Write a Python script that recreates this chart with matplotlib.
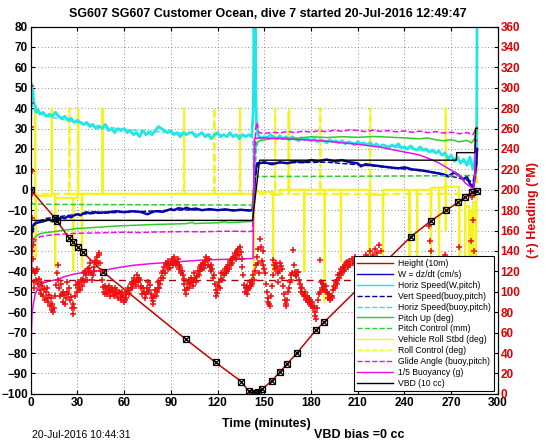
import matplotlib
matplotlib.use('Agg')
import matplotlib.pyplot as plt
from matplotlib.lines import Line2D

plt.rcParams['font.family'] = ['Liberation Sans', 'DejaVu Sans']

# ---- data (time in minutes, values on left axis) ----
height = [(0, 0), (15.8, -14), (17, -15.5), (24.8, -23.6), (27.4, -25.7), (30.2, -28),
          (33.5, -30.5), (46.4, -40.2), (99.7, -73.3), (118.7, -84.6), (135.3, -94),
          (140, -98.8), (142, -99.5), (144, -99.6), (146, -99), (148.5, -97.8), (155, -93.5),
          (160, -89.3), (164.6, -85.4), (171, -80), (183, -68.9), (188.4, -64.9),
          (244.1, -23), (256.9, -15.3), (266.9, -10), (274.6, -6.1), (278.8, -3.5),
          (283.5, -1.3), (286.7, -0.5)]

w_speed = [(0, -30), (0.5, -22), (1, -19), (2, -17), (3, -16.5), (5, -16), (8, -15.5), (10, -15),
           (12, -14.5), (14, -15.5), (16, -14), (18, -14.5), (20, -13.5), (22, -14), (24, -13),
           (26, -13.5), (28, -12.5), (30, -12), (32, -12.5), (34, -11.5), (36, -11), (38, -11.5),
           (40, -11), (45, -11.2), (50, -11), (55, -10.5), (60, -11), (65, -10.5), (70, -10.8),
           (72, -11.2), (75, -12), (78, -11), (80, -10.5), (85, -10.8), (88, -10), (90, -9.5),
           (92, -10), (95, -9), (98, -9.5), (100, -8.8), (103, -9.6), (106, -9.2), (110, -10),
           (115, -9.5), (120, -10), (125, -9.6), (130, -10.2), (135, -9.8), (140, -10.2),
           (142.5, -10), (143.5, 0), (144.5, 10), (145.5, 13), (147, 13), (150, 13.5),
           (155, 12.5), (160, 13.5), (165, 13), (170, 14), (175, 13.5), (180, 14.5), (185, 14),
           (190, 14.8), (195, 14), (200, 14.5), (205, 13.5), (210, 13), (212, 11.5),
           (215, 12.5), (220, 12), (225, 11.5), (230, 11), (236, 10.5), (240, 11), (245, 10),
           (250, 9.6), (255, 9), (258, 8.5), (262, 8), (265, 7.5), (268, 6.5), (270, 7.5),
           (272, 8.5), (275, 7), (278, 5), (280, 6.5), (282, 3), (284, 1), (285, 5), (286, 12),
           (286.6, 20)]

horiz_w = [(0, 44), (0.5, 52), (1, 47), (1.5, 49), (2, 43), (3, 41), (4, 38), (5, 39), (6, 37),
           (8, 38), (10, 36), (12, 37), (14, 36), (16, 38), (18, 36), (20, 35), (22, 36), (24, 34),
           (26, 35), (28, 33), (30, 34), (32, 33), (34, 32), (36, 33), (38, 31), (40, 32), (42, 30),
           (44, 31), (46, 30), (48, 32), (50, 29), (52, 30), (54, 28), (56, 30), (58, 29), (60, 30),
           (62, 28), (64, 29), (66, 27), (68, 28), (70, 26), (72, 29), (74, 27), (76, 28), (78, 27),
           (80, 29), (82, 31), (84, 30), (86, 29), (88, 28), (90, 29), (92, 27), (94, 28), (96, 26),
           (98, 28), (100, 27), (102, 28), (104, 28), (106, 26), (108, 27), (110, 28), (112, 26),
           (114, 27), (116, 25), (118, 27), (120, 28), (122, 26), (124, 27), (126, 26), (128, 28),
           (130, 26), (132, 27), (134, 25), (136, 27), (138, 26), (140, 27), (142, 26), (143, 40),
           (143.4, 85), (143.8, 62), (144.2, 85), (144.6, 50), (145, 30), (146, 27), (148, 25),
           (150, 26), (152, 25.5), (154, 27), (156, 26), (158, 25), (160, 26.5), (162, 25),
           (164, 26), (166, 24.5), (168, 26), (170, 25), (172, 24), (174, 25.5), (176, 24.5),
           (178, 25), (180, 24), (182, 25), (184, 23.5), (186, 24.5), (188, 24), (190, 23),
           (192, 24.5), (194, 23.5), (196, 24), (198, 23), (200, 24), (202, 22.5), (204, 23.5),
           (206, 23), (208, 22), (210, 23.5), (212, 22.5), (214, 23), (216, 22), (218, 23),
           (220, 21.5), (222, 22.5), (224, 21), (226, 22), (228, 21.5), (230, 20.5), (232, 22),
           (234, 21), (236, 22.5), (238, 20.5), (240, 21), (242, 20), (244, 21.5), (246, 20),
           (248, 19.5), (250, 21), (252, 19.5), (254, 20), (256, 18.5), (258, 19.5), (260, 18),
           (262, 19), (264, 17), (266, 18), (268, 15), (270, 17), (272, 14), (274, 16), (276, 13),
           (278, 15), (280, 12), (282, 16), (284, 10), (285, 14), (285.5, 18), (286, 12),
           (286.3, 20), (286.6, 85)]

vert_buoy = [(0, -32), (1, -22), (3, -16), (10, -14), (30, -12), (60, -11), (90, -10), (120, -9.8),
             (142.5, -9.8), (144, 5), (146, 13), (190, 13.5), (230, 11), (260, 8.5), (284, 4),
             (286.5, 14)]

horiz_buoy = [(0, 30), (1, 42), (3, 38), (10, 36), (30, 33), (60, 29.5), (90, 28), (120, 27),
              (142.5, 26.5), (143.5, -8), (145, 20), (146.5, 26), (190, 24), (230, 21.5),
              (260, 18.5), (284, 12), (286.5, 22)]

pitch = [(0, -85), (0.3, -60), (0.6, -35), (1, -28), (2, -24), (4, -22.5), (6, -21.5), (10, -21),
         (15, -20.5), (20, -20), (25, -19.5), (30, -19), (35, -18.8), (40, -18.5), (45, -18.3),
         (50, -18), (60, -17.6), (70, -17.3), (80, -17), (90, -16.8), (100, -16.6), (104, -16),
         (105, -16.6), (110, -16.4), (120, -16.2), (125, -15.6), (126, -16.1), (130, -16),
         (135, -15.8), (140, -15.6), (142.5, -15.5), (143, -5), (143.5, 5), (144, 18), (145, 23),
         (147, 24), (150, 24.5), (160, 25.5), (170, 25.2), (180, 26), (190, 25.6), (200, 26),
         (210, 25.7), (220, 26.1), (230, 25.8), (240, 25.4), (250, 25), (255, 25.4), (260, 24.5),
         (265, 24), (270, 24.6), (275, 23.5), (280, 24.2), (283, 23), (285, 25), (286.6, 29)]

pitch_ctl = [(0, -2), (1, -7), (20, -7.2), (60, -7.3), (100, -7.4), (142.5, -7.5), (143.5, 6.5),
             (200, 6.6), (250, 6.8), (286, 7)]

roll = [(0, -1), (2.8, -1), (3.0, 40), (3.2, -33), (3.4, -3), (13.4, -3), (13.6, 40), (13.8, -2),
        (15.6, -2), (15.8, -38), (16.0, -4), (27.2, -4), (27.4, -40), (27.6, -4), (30.4, -4),
        (30.6, 40), (30.8, -2), (32.8, -2), (33.0, -38), (33.2, -2), (46.0, -2), (46.2, 40),
        (46.4, -2), (143.0, -2), (143.3, -45), (143.6, 2), (146, -1), (155.5, -1),
        (155.7, -40), (155.9, -2.5), (160, -2.5), (160.2, 0), (165.5, 0), (165.7, 38),
        (165.9, 0), (175.5, 0), (175.7, -40), (175.9, 0), (188.6, 0), (188.8, -55), (189.0, 0),
        (199, 0), (199.2, -35), (199.4, 0), (217.4, 0), (217.6, -40), (217.8, -2.5),
        (226, -2.5), (226.2, -60), (226.4, 0), (243, 0), (243.2, -62), (243.4, 0), (248, 0),
        (248.2, -55), (248.4, 0), (256.8, 0), (257, -50), (257.2, 1), (262, 1), (262.2, -65),
        (262.4, 1), (266.3, 1), (266.5, -20), (266.7, 1.5), (275, 1.5), (275.2, -70),
        (275.4, -5), (278.8, -5), (279, -75), (279.2, -8), (281.5, -8), (281.7, -60),
        (281.9, -10), (283.5, -10), (283.7, -80), (283.9, -6), (285.5, -6), (285.7, -45),
        (286.5, 0)]

roll_ctl = [(0, -2), (24.7, -2), (24.9, 40), (25.1, -2), (46.1, -2), (46.3, 40), (46.5, -2),
            (98.4, -2), (98.6, 40), (98.8, -2), (117.8, -2), (118, 40), (118.2, -2),
            (134.3, -2), (134.5, 40), (134.7, -2), (156.8, -2), (157, 40), (157.2, -2),
            (165.8, -2), (166, 40), (166.2, -2), (185.8, -2), (186, 40), (186.2, -2),
            (217.8, -2), (218, 40), (218.2, -2), (266.2, -2), (266.4, 40), (266.6, -2),
            (286.5, -2), (286.7, 40)]

glide = [(0, -70), (0.5, -40), (1, -30), (2, -26), (4, -24), (6, -23), (10, -22.5), (15, -22),
         (20, -21.8), (30, -21.3), (40, -21.2), (50, -21), (60, -20.8), (70, -21), (80, -20.7),
         (90, -20.6), (100, -20.5), (110, -20.6), (120, -20.4), (130, -20.3), (140, -20.5),
         (142.5, -20.3), (143.5, 5), (144.5, 30), (145.5, 33), (146.5, 28), (150, 27.5),
         (155, 28.2), (160, 27.8), (165, 28.6), (170, 28), (175, 28.8), (180, 28.2), (185, 29),
         (190, 28.4), (195, 29.2), (200, 28.6), (205, 29.4), (210, 29), (215, 28.5), (220, 29.2),
         (225, 28.6), (230, 29), (235, 28.4), (240, 28.8), (245, 28.2), (250, 28.7), (255, 28),
         (260, 28.5), (265, 27.8), (270, 28.2), (275, 27.5), (280, 28), (284, 27), (286.6, 31)]

buoyancy = [(0, -95), (0.3, -80), (0.6, -68), (1, -60), (2, -55), (3, -51), (4.5, -48.5), (6, -46.7),
            (9, -45.5), (12, -44.8), (17, -44), (22, -42.5), (28, -41.3), (34, -40.5), (40, -40),
            (47, -39.5), (55, -38.3), (66, -37), (76, -36.3), (87, -35.7), (98, -35.1),
            (109, -34.5), (120, -34.2), (130, -34), (142.8, -33.7), (143.2, 0), (143.6, 25),
            (147, 25.5), (160, 25), (175, 24.5), (190, 23.8), (200, 23), (211, 22.2),
            (225, 20.8), (232, 19.7), (240, 18.5), (249, 17.2), (255, 15.5), (262, 13.2),
            (268, 10.5), (273, 8.2), (277, 5.5), (279, 3.3), (283.5, 0.8), (284.5, 0),
            (285.2, 8), (285.6, 24.7), (286.5, 24)]

vbd = [(0, -15), (142.5, -15), (147, 14.5), (273.3, 14.5), (273.5, 18.2), (285.2, 18.2),
       (285.6, 30.1), (286.7, 30.1)]

# heading (degrees, right axis)
heading = [(0.0, 302), (0.15, 285), (0.3, 262), (0.45, 240), (0.6, 218), (0.75, 196), (0.9, 172),
           (1.05, 152), (1.2, 140), (1.4, 146), (1.6, 132), (1.8, 121), (2.0, 110), (2.2, 104),
           (2.6, 118), (3.2, 120), (3.8, 112), (4.3, 122), (4.8, 108), (5.4, 113), (6.0, 102),
           (6.5, 110), (7.0, 98), (7.6, 106), (8.2, 96), (8.7, 103), (9.2, 92), (9.7, 100),
           (10.3, 94), (10.8, 104), (11.4, 90), (11.9, 97), (12.5, 86), (13.0, 94), (13.5, 82),
           (14.0, 88), (14.5, 80), (15.1, 84), (15.6, 96), (16.2, 107), (16.7, 118), (17.3, 126),
           (17.8, 112), (18.3, 104), (18.9, 96), (19.4, 108), (20.0, 98), (20.5, 100), (21.1, 90),
           (21.6, 97), (22.2, 88), (22.7, 94), (23.2, 100), (23.7, 110), (24.3, 98), (24.8, 104),
           (25.4, 92), (25.9, 95), (26.5, 84), (27.0, 88), (27.5, 78), (28.0, 84), (28.6, 96),
           (29.1, 107), (29.6, 100), (30.2, 104), (30.7, 110), (31.3, 108), (31.8, 102),
           (32.4, 112), (32.9, 106), (33.5, 113), (34.0, 118), (34.5, 110), (35.1, 120),
           (35.6, 116), (36.2, 112), (36.7, 122), (37.3, 118), (37.8, 123), (38.3, 128),
           (38.9, 118), (39.4, 112), (39.9, 116), (40.5, 124), (41.0, 120), (41.5, 130),
           (42.1, 129), (42.6, 134), (43.2, 128), (43.7, 138), (44.2, 136), (44.8, 128),
           (45.3, 120), (45.8, 112), (46.4, 105), (46.9, 100), (47.5, 98), (48.0, 106),
           (48.6, 104), (49.1, 98), (49.6, 102), (50.2, 106), (50.7, 102), (51.3, 96), (51.8, 100),
           (52.4, 104), (52.9, 100), (53.5, 96), (54.0, 98), (54.5, 104), (55.0, 102), (55.6, 98),
           (56.1, 94), (56.7, 100), (57.2, 99), (57.8, 92), (58.3, 95), (58.9, 100), (59.4, 96),
           (60.0, 90), (60.5, 92), (61.0, 98), (61.5, 94), (62.1, 100), (62.6, 104), (63.2, 98),
           (63.7, 102), (64.3, 108), (64.8, 104), (65.3, 110), (65.8, 108), (66.4, 114),
           (66.9, 110), (67.5, 106), (68.0, 112), (68.5, 116), (69.1, 110), (69.6, 114),
           (70.1, 112), (70.7, 106), (71.2, 104), (71.8, 98), (72.3, 104), (72.9, 100), (73.4, 94),
           (74.0, 98), (74.5, 100), (75.0, 104), (75.5, 110), (76.1, 102), (76.6, 107), (77.2, 98),
           (77.7, 94), (78.3, 88), (78.8, 91), (79.3, 96), (79.9, 102), (80.4, 96), (80.9, 100),
           (81.5, 104), (82.0, 110), (82.6, 104), (83.1, 108), (83.7, 114), (84.2, 118),
           (84.7, 114), (85.3, 120), (85.8, 124), (86.3, 118), (86.9, 128), (87.4, 126),
           (88.0, 122), (88.5, 130), (89.0, 126), (89.6, 123), (90.1, 128), (90.7, 132),
           (91.2, 126), (91.7, 129), (92.3, 134), (92.8, 130), (93.4, 126), (93.9, 128),
           (94.5, 132), (95.0, 126), (95.5, 122), (96.0, 124), (96.6, 118), (97.1, 120),
           (97.7, 116), (98.2, 113), (98.7, 108), (99.3, 102), (99.8, 98), (100.4, 104),
           (100.9, 110), (101.4, 104), (102.0, 112), (102.5, 108), (103.1, 114), (103.6, 110),
           (104.2, 106), (104.7, 112), (105.2, 118), (105.8, 114), (106.3, 110), (106.8, 115),
           (107.4, 120), (107.9, 116), (108.5, 124), (109.0, 120), (109.5, 126), (110.1, 122),
           (110.6, 128), (111.2, 123), (111.7, 130), (112.2, 126), (112.8, 134), (113.3, 131),
           (113.9, 126), (114.4, 132), (114.9, 124), (115.5, 126), (116.0, 120), (116.5, 122),
           (117.1, 114), (117.6, 116), (118.2, 108), (118.7, 102), (119.3, 96), (119.8, 99),
           (120.4, 106), (120.9, 110), (121.4, 104), (122.0, 113), (122.5, 118), (123.0, 112),
           (123.6, 118), (124.1, 116), (124.7, 122), (125.2, 118), (125.8, 124), (126.3, 120),
           (126.8, 126), (127.4, 122), (127.9, 130), (128.4, 126), (129.0, 132), (129.5, 128),
           (130.1, 134), (130.6, 133), (131.1, 138), (131.7, 132), (132.2, 140), (132.7, 136),
           (133.3, 142), (133.8, 136), (134.4, 144), (134.9, 139), (135.4, 132), (136.0, 124),
           (136.5, 116), (137.0, 107), (137.6, 100), (138.1, 104), (138.7, 98), (139.2, 106),
           (139.7, 102), (140.3, 104), (140.8, 110), (141.4, 106), (141.9, 112), (142.4, 108),
           (143.0, 116), (143.5, 112), (144.1, 120), (144.6, 126), (145.1, 134), (145.7, 128),
           (146.2, 142), (146.8, 118), (147.3, 152), (147.8, 144), (148.4, 130), (148.9, 140),
           (149.5, 126), (150.0, 122), (150.5, 118), (151.1, 108), (151.6, 100), (152.2, 94),
           (152.7, 90), (153.2, 88), (153.7, 86), (154.3, 96), (154.8, 106), (155.4, 116),
           (155.8, 131), (156.4, 126), (156.9, 122), (157.4, 128), (157.9, 124), (158.5, 118),
           (159.0, 110), (159.5, 120), (160.1, 128), (160.6, 125), (161.1, 122), (161.7, 114),
           (162.2, 106), (162.7, 98), (163.2, 92), (163.7, 88), (164.2, 86), (164.8, 92),
           (165.3, 100), (165.9, 104), (166.4, 110), (166.9, 116), (167.4, 112), (168.0, 118),
           (168.5, 141), (169.0, 126), (169.5, 119), (170.1, 116), (170.6, 115), (171.1, 119),
           (171.6, 119), (172.2, 112), (172.7, 108), (173.3, 104), (173.8, 100), (174.3, 104),
           (174.8, 98), (175.4, 96), (175.9, 100), (176.4, 96), (176.9, 92), (177.5, 96),
           (178.0, 90), (178.6, 94), (179.1, 88), (179.6, 92), (180.2, 86), (180.7, 90),
           (181.2, 84), (181.8, 86), (182.3, 80), (182.8, 76), (183.3, 73), (183.9, 84),
           (184.4, 92), (184.9, 98), (185.5, 131), (186.0, 100), (186.5, 110), (187.0, 104),
           (187.5, 108), (188.0, 102), (188.5, 106), (189.0, 102), (189.5, 106), (190.1, 100),
           (190.6, 98), (191.1, 94), (191.7, 98), (192.2, 92), (192.7, 96), (193.2, 94),
           (193.7, 96), (194.3, 102), (194.8, 106), (195.3, 104), (195.8, 110), (196.4, 108),
           (196.9, 112), (197.4, 116), (197.9, 114), (198.5, 118), (199.0, 116), (199.5, 122),
           (200.0, 119), (200.5, 124), (201.0, 120), (201.6, 126), (202.1, 122), (202.6, 128),
           (203.2, 129), (203.8, 124), (204.4, 130), (205.0, 126), (206.0, 132), (207.0, 128),
           (208.0, 134), (209.0, 130), (210.5, 126), (212.0, 132), (213.5, 128), (215.0, 136),
           (216.5, 134), (218.0, 140), (219.5, 136), (221.0, 142), (222.5, 138), (223.8, 146),
           (225.0, 140), (226.5, 132), (228.0, 124), (230.0, 118), (232.0, 112), (234.0, 116),
           (236.6, 118), (238.0, 112), (240.0, 108), (242.0, 104), (244.0, 100), (246.0, 96),
           (248.0, 90), (250.0, 80), (251.5, 70), (253.0, 60), (254.5, 80), (255.0, 100),
           (255.4, 130), (255.8, 164), (256.2, 150), (256.8, 140), (258.0, 128), (260.0, 122),
           (262.0, 126), (264.0, 130), (266.0, 136), (268.0, 132), (270.0, 128), (272.0, 124),
           (274.0, 130), (275.0, 144), (275.5, 120), (276.0, 100), (277.0, 80), (278.0, 60),
           (279.0, 40), (280.0, 30), (281.0, 50), (282.0, 90), (283.0, 150), (283.5, 193),
           (284.0, 170), (284.5, 140), (285.0, 110), (286.0, 70), (286.5, 40)]

heading_target = 112
target_span = [0, 286.7]

labels = ['Height (10m)', 'W = dz/dt (cm/s)', 'Horiz Speed(W,pitch)', 'Vert Speed(buoy,pitch)',
          'Horiz Speed(buoy,pitch)', 'Pitch Up (deg)', 'Pitch Control (mm)',
          'Vehicle Roll Stbd (deg)', 'Roll Control (deg)', 'Glide Angle (buoy,pitch)',
          '1/5 Buoyancy (g)', 'VBD (10 cc)']

RED = '#c80000'
BLUE = '#0a0ab4'
CYAN = '#22e6e6'
GREEN = '#2ecc2e'
YELLOW = '#f4f41c'
MAGENTA = '#e612e6'


def xy(pairs):
    return [p[0] for p in pairs], [p[1] for p in pairs]


fig = plt.figure(figsize=(5.46, 4.42), dpi=100)
ax = fig.add_axes([0.056, 0.109, 0.856, 0.831])
ax2 = ax.twinx()

styles = [
    (height, RED, '-', 1.1),
    (w_speed, BLUE, '-', 1.8),
    (horiz_w, CYAN, '-', 2.0),
    (vert_buoy, '#00008c', '--', 1.0),
    (horiz_buoy, CYAN, '--', 1.0),
    (pitch, GREEN, '-', 1.1),
    (pitch_ctl, GREEN, '--', 1.1),
    (roll, YELLOW, '-', 1.5),
    (roll_ctl, YELLOW, '--', 1.5),
    (glide, MAGENTA, '--', 1.1),
    (buoyancy, MAGENTA, '-', 1.1),
    (vbd, 'black', '-', 1.0),
]
order = [7, 8, 2, 4, 1, 3, 5, 6, 9, 10, 11, 0]
handles = []
for data, col, ls, lw in styles:
    handles.append(Line2D([], [], color=col, linestyle=ls, linewidth=1.0))
for z, i in enumerate(order):
    data, col, ls, lw = styles[i]
    tx, vy = xy(data)
    ax.plot(tx, vy, color=col, linestyle=ls, linewidth=lw, zorder=2 + z * 0.1)

# height markers
ht, hv = xy(height)
ax.plot(ht, hv, linestyle='none', marker='s', markersize=4.5, markerfacecolor='none',
        markeredgecolor='black', markeredgewidth=0.9, zorder=4)
ax.plot(ht, hv, linestyle='none', marker='x', markersize=4.5, color='black',
        markeredgewidth=0.9, zorder=4)

# heading on right axis
ax2.plot(target_span, [heading_target, heading_target], color='#b00000', linestyle='--',
         linewidth=1.0, dashes=(5, 4))
hx, hy = xy(heading)
ax2.plot(hx, hy, linestyle='none', marker='+', markersize=4.5, markeredgewidth=1.1,
         color='#ee1010')

ax.set_xlim(0, 300)
ax.set_ylim(-100, 80)
ax.set_xticks(range(0, 301, 30))
ax.set_yticks(range(-100, 81, 10))
ax2.set_ylim(0, 360)
ax2.set_yticks(range(0, 361, 20))

ax.grid(True, linestyle=(0, (1, 3)), color='#666666', linewidth=0.6)
ax.tick_params(axis='both', direction='in', length=3, top=True, right=False, labelsize=8.5,
               pad=2)
ax2.tick_params(axis='y', direction='in', length=3, labelsize=8.5, labelcolor='#dd0000', pad=2)
for lab in ax.get_xticklabels() + ax.get_yticklabels() + ax2.get_yticklabels():
    lab.set_fontweight('bold')
for sp in ax.spines.values():
    sp.set_linewidth(0.8)

ax2.set_ylabel('(+) Heading (°M)', color='#dd0000', fontsize=9, fontweight='bold')
ax2.yaxis.set_label_coords(1.062, 0.5)

fig.text(0.49, 0.968, 'SG607 SG607 Customer Ocean, dive 7 started 20-Jul-2016 12:49:47',
         ha='center', va='center', fontsize=9, fontweight='bold')
fig.text(0.487, 0.041, 'Time (minutes)', ha='center', va='center', fontsize=9,
         fontweight='bold')
fig.text(0.058, 0.016, '20-Jul-2016 10:44:31', ha='left', va='center', fontsize=7.5)
fig.text(0.575, 0.016, 'VBD bias =0 cc', ha='left', va='center', fontsize=9,
         fontweight='bold')

leg = ax2.legend(handles, labels, loc='lower right', bbox_to_anchor=(0.991, 0.008),
                 borderaxespad=0, fontsize=6.2, handlelength=4.2, labelspacing=0.22,
                 borderpad=0.35, handletextpad=0.6, fancybox=False, framealpha=1,
                 edgecolor='black')
leg.get_frame().set_linewidth(0.8)
leg.set_zorder(10)

fig.savefig('out.png', dpi=100)
plt.close(fig)
